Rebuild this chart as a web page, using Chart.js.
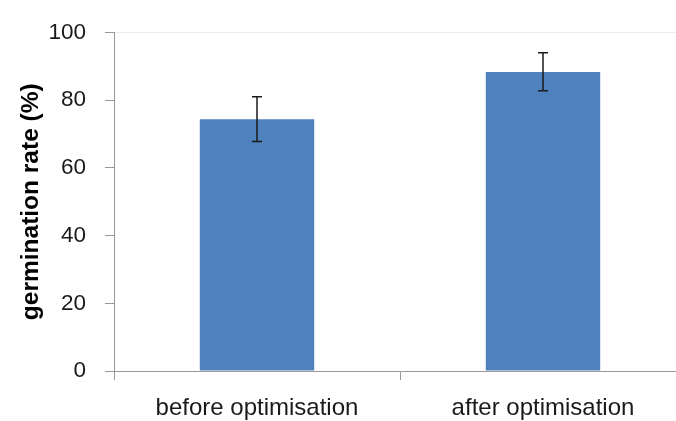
<!DOCTYPE html>
<html>
<head>
<meta charset="utf-8">
<script src="https://cdn.jsdelivr.net/npm/chart.js@4/dist/chart.umd.min.js"></script>
<style>
  html, body { margin: 0; padding: 0; background: #fff; overflow: hidden; width: 676px; height: 421px; }
  #wrap { position: absolute; left: 0; top: 0; width: 700px; height: 421px; }
</style>
</head>
<body>
<div id="wrap"><canvas id="c" width="700" height="421"></canvas></div>
<script>
const categories = ["before optimisation", "after optimisation"];
const germinationRate = [74.4, 88.3];
const errorLow = [67.8, 82.8];
const errorHigh = [81.0, 94.0];
const yTicks = [0, 20, 40, 60, 80, 100];
const yTitle = "germination rate (%)";

const errorBarPlugin = {
  id: 'errorBars',
  afterDatasetsDraw(chart) {
    const ctx = chart.ctx;
    const meta = chart.getDatasetMeta(0);
    const y = chart.scales.y;
    ctx.save();
    ctx.strokeStyle = '#1a1a1a';
    ctx.lineWidth = 1.5;
    meta.data.forEach((bar, i) => {
      const x = bar.x;
      const yl = y.getPixelForValue(errorLow[i]);
      const yh = y.getPixelForValue(errorHigh[i]);
      ctx.beginPath();
      ctx.moveTo(x, yl); ctx.lineTo(x, yh);
      ctx.moveTo(x - 5, yl); ctx.lineTo(x + 5, yl);
      ctx.moveTo(x - 5, yh); ctx.lineTo(x + 5, yh);
      ctx.stroke();
    });
    ctx.restore();
  }
};

new Chart(document.getElementById('c'), {
  type: 'bar',
  data: {
    labels: categories,
    datasets: [{
      data: germinationRate,
      backgroundColor: '#4F81BD',
      borderWidth: 0,
      barPercentage: 0.4,
      categoryPercentage: 1.0
    }]
  },
  options: {
    responsive: false,
    animation: false,
    devicePixelRatio: 1,
    layout: { padding: { left: 0, right: 14, top: 29, bottom: 0 } },
    plugins: { legend: { display: false }, tooltip: { enabled: false } },
    scales: {
      x: {
        grid: { display: true, offset: true, drawOnChartArea: false, drawTicks: true, tickLength: 9, tickColor: '#999', color: '#999' },
        border: { display: true, color: '#999', width: 1 },
        ticks: { color: '#1a1a1a', padding: 14, font: { family: "'Liberation Sans', Arial, sans-serif", size: 24 } },
        afterFit(scale) { scale.height = 50; }
      },
      y: {
        min: 0, max: 100,
        afterBuildTicks(scale) { scale.ticks = yTicks.map(v => ({ value: v })); },
        grid: {
          drawTicks: true, tickLength: 9, tickColor: '#999',
          color: ctx => (ctx.tick && ctx.tick.value === 100) ? '#ececec' : 'rgba(0,0,0,0)'
        },
        border: { display: true, color: '#999', width: 1 },
        ticks: { color: '#1a1a1a', padding: 19, font: { family: "'Liberation Sans', Arial, sans-serif", size: 22.5 } },
        title: {
          display: true, text: yTitle, color: '#000',
          font: { family: "'Liberation Sans', Arial, sans-serif", size: 24.5, weight: 'bold' },
          padding: { top: 17, bottom: 0 }
        },
        afterFit(scale) { scale.width = 114; }
      }
    }
  },
  plugins: [errorBarPlugin]
});
</script>
</body>
</html>
